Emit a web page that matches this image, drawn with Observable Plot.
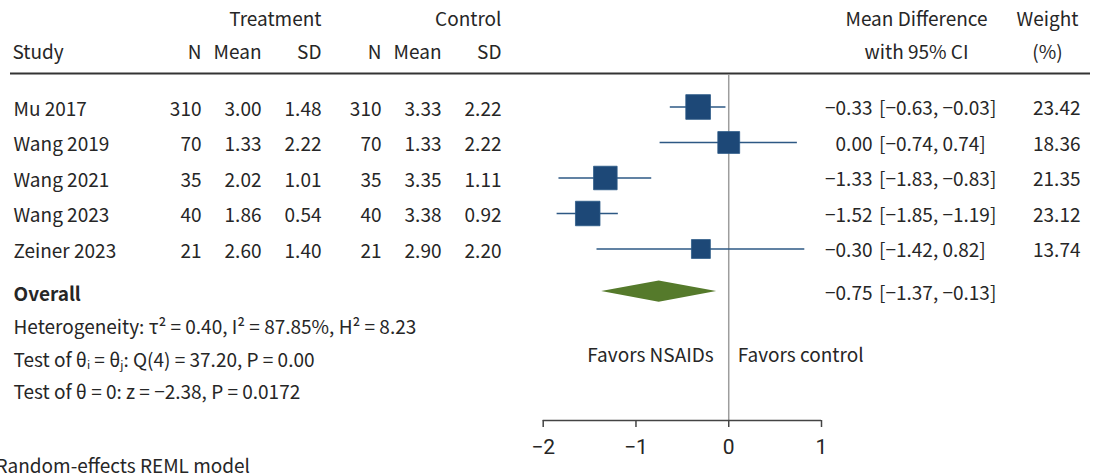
<!DOCTYPE html>
<html><head><meta charset="utf-8">
<script src="https://cdn.jsdelivr.net/npm/d3@7"></script>
<script src="https://cdn.jsdelivr.net/npm/@observablehq/plot@0.6"></script>
<style>
body{margin:0;background:#fff}
#chart{position:relative;width:1100px;height:476px;overflow:hidden;background:#fff}
#chart svg{position:absolute;left:0;top:0}
</style></head><body><div id="chart"></div>
<script>
// ---------- data ----------
const studies = ["Mu 2017", "Wang 2019", "Wang 2021", "Wang 2023", "Zeiner 2023"];
const nTreat = [310, 70, 35, 40, 21];
const meanTreat = [3.00, 1.33, 2.02, 1.86, 2.60];
const sdTreat = [1.48, 2.22, 1.01, 0.54, 1.40];
const nCtrl = [310, 70, 35, 40, 21];
const meanCtrl = [3.33, 1.33, 3.35, 3.38, 2.90];
const sdCtrl = [2.22, 2.22, 1.11, 0.92, 2.20];
const meanDiff = [-0.33, 0.00, -1.33, -1.52, -0.30];
const ciLow = [-0.63, -0.74, -1.83, -1.85, -1.42];
const ciHigh = [-0.03, 0.74, -0.83, -1.19, 0.82];
const weights = [23.42, 18.36, 21.35, 23.12, 13.74];
const overallLabel = "Overall";
const overall = {md: -0.75, lo: -1.37, hi: -0.13};
const statLines = [
  "Heterogeneity: τ² = 0.40, I² = 87.85%, H² = 8.23",
  "Test of θᵢ = θⱼ: Q(4) = 37.20, P = 0.00",
  "Test of θ = 0: z = −2.38, P = 0.0172"
];
const modelNote = "Random-effects REML model";
const favorsLeft = "Favors NSAIDs";
const favorsRight = "Favors control";
const xTicks = [-2, -1, 0, 1];
const colKeys = ["nT", "meanT", "sdT", "nC", "meanC", "sdC"];
const colHeaders = ["N", "Mean", "SD", "N", "Mean", "SD"];
const groupHeaders = [{col: "sdT", label: "Treatment"}, {col: "sdC", label: "Control"}];

// ---------- layout ----------
const W = 1100, H = 476;
const FONT = '"Noto Sans CJK KR", "Noto Sans", sans-serif';
const FS = 19;
const TXT = "#262626";
const PX = 35.5; // pixels per row unit
const ROW = {group: -2.465, header: -1.52, rule: -0.946, lineTop: -0.89, overall: 5.2,
  stats: [6.225, 7.16, 8.05], favors: 7.01, axis: 8.831, tickLabel: 9.59, model: 10.15};
const yScale = {type: "linear", domain: [0, 1], range: [106.5, 106.5 + PX], axis: null};
const baseStyle = {background: "none", fontFamily: FONT, fontSize: FS + "px", color: TXT};
const fmtMinus = v => (v < 0 ? "\u2212" : "") + Math.abs(v).toFixed(2);
const fmtTick = v => (v < 0 ? "\u2212" : "") + Math.abs(v);

const chart = document.getElementById("chart");

// ---------- left table ----------
const colVals = {nT: nTreat, meanT: meanTreat, sdT: sdTreat, nC: nCtrl, meanC: meanCtrl, sdC: sdCtrl};
const cells = studies.flatMap((s, i) => colKeys.map(k => ({
  col: k, row: i, label: k.startsWith("n") ? String(colVals[k][i]) : colVals[k][i].toFixed(2)
})));
const headerCells = colKeys.map((k, j) => ({col: k, label: colHeaders[j]}));
const studyRows = studies.map((s, i) => ({row: i, label: s}));
const statRows = statLines.map((s, i) => ({row: ROW.stats[i], label: s}));

const left = Plot.plot({
  width: W, height: H, marginLeft: 10, marginRight: 10, marginTop: 0, marginBottom: 0,
  style: baseStyle,
  x: {type: "point", domain: colKeys, range: [200, 502], padding: 0, axis: null},
  y: yScale,
  marks: [
    Plot.ruleY([ROW.rule], {stroke: "#333", strokeWidth: 2}),
    Plot.text(groupHeaders, {x: "col", y: () => ROW.group, text: "label", textAnchor: "end", fontSize: FS, fill: TXT}),
    Plot.text(headerCells, {x: "col", y: () => ROW.header, text: "label", textAnchor: "end", fontSize: FS, fill: TXT}),
    Plot.text(["Study"], {frameAnchor: "left", y: () => ROW.header, text: d => d, textAnchor: "start", dx: 2, fontSize: FS, fill: TXT}),
    Plot.text(cells, {x: "col", y: "row", text: "label", textAnchor: "end", dy: 2.5, fontSize: FS, fill: TXT}),
    Plot.text(studyRows, {frameAnchor: "left", y: "row", text: "label", textAnchor: "start", dx: 3, dy: 2.5, fontSize: FS, fill: TXT}),
    Plot.text([overallLabel], {frameAnchor: "left", y: () => ROW.overall, text: d => d, textAnchor: "start", dx: 3, dy: 3, fontSize: FS, fontWeight: "bold", fill: TXT}),
    Plot.text(statRows, {frameAnchor: "left", y: "row", text: "label", textAnchor: "start", dx: 3, fontSize: FS, fill: TXT}),
    Plot.text([modelNote], {frameAnchor: "left", y: () => ROW.model, text: d => d, textAnchor: "start", dx: -15, fontSize: FS, fill: TXT})
  ]
});
chart.appendChild(left);

// ---------- forest ----------
const forest = studies.map((s, i) => ({row: i, md: meanDiff[i], lo: ciLow[i], hi: ciHigh[i], w: weights[i]}));
const halfH = 0.3;
const diamond = [
  {x: overall.lo, y1: ROW.overall, y2: ROW.overall},
  {x: overall.md, y1: ROW.overall - halfH, y2: ROW.overall + halfH},
  {x: overall.hi, y1: ROW.overall, y2: ROW.overall}
];
const tickLen = 7 / PX;
const mid = Plot.plot({
  width: W, height: H, marginLeft: 542.7, marginRight: W - 821, marginTop: 0, marginBottom: H - 420,
  style: baseStyle,
  x: {domain: [xTicks[0], xTicks[xTicks.length - 1]], axis: null},
  y: yScale,
  r: {type: "sqrt", domain: [0, 100], range: [0, 28.77]},
  marks: [
    Plot.ruleX([0], {y1: ROW.lineTop, y2: ROW.axis, stroke: "#9d9d9d", strokeWidth: 1.5}),
    Plot.ruleY(forest, {y: "row", x1: "lo", x2: "hi", stroke: "#2d5884", strokeWidth: 1.6}),
    Plot.dot(forest, {x: "md", y: "row", r: "w", symbol: "square", fill: "#1d4877", stroke: "#2c5a88", strokeWidth: 0.8}),
    Plot.areaY(diamond, {x: "x", y1: "y1", y2: "y2", fill: "#557a2b"}),
    Plot.text([favorsLeft], {x: () => 0, y: () => ROW.favors, text: d => d, textAnchor: "end", dx: -15, fontSize: FS, fill: TXT}),
    Plot.text([favorsRight], {x: () => 0, y: () => ROW.favors, text: d => d, textAnchor: "start", dx: 9, fontSize: FS, fill: TXT}),
    // x axis: line, ticks, labels
    Plot.ruleY([ROW.axis], {stroke: "#444", strokeWidth: 1.5}),
    Plot.ruleX(xTicks, {y1: ROW.axis, y2: ROW.axis + tickLen, stroke: "#444", strokeWidth: 1.5}),
    Plot.text(xTicks, {x: d => d, y: () => ROW.tickLabel, text: fmtTick, textAnchor: "middle",
      fontSize: 21, fontFamily: "Roboto, sans-serif", fill: TXT})
  ]
});
chart.appendChild(mid);

// ---------- right table ----------
const estRows = forest.map(d => ({row: d.row, est: fmtMinus(d.md), ci: `[${fmtMinus(d.lo)}, ${fmtMinus(d.hi)}]`, w: d.w.toFixed(2)}));
estRows.push({row: ROW.overall, est: fmtMinus(overall.md), ci: `[${fmtMinus(overall.lo)}, ${fmtMinus(overall.hi)}]`, w: ""});
const right = Plot.plot({
  width: W, height: H, marginLeft: 0, marginRight: 0, marginTop: 0, marginBottom: 0,
  style: baseStyle,
  x: {type: "point", domain: ["est", "weight"], range: [875, 1080], padding: 0, axis: null},
  y: yScale,
  marks: [
    Plot.text(["Mean Difference", "with 95% CI"], {x: () => "est", y: (d, i) => [ROW.group, ROW.header][i], text: d => d, textAnchor: "middle", dx: 41, fontSize: FS, fill: TXT}),
    Plot.text(["Weight", "(%)"], {x: () => "weight", y: (d, i) => [ROW.group, ROW.header][i], text: d => d, textAnchor: "middle", dx: -33, fontSize: FS, fill: TXT}),
    Plot.text(estRows, {x: () => "est", y: "row", text: "est", textAnchor: "end", dx: -3, dy: 2, fontSize: FS, fill: TXT}),
    Plot.text(estRows, {x: () => "est", y: "row", text: "ci", textAnchor: "start", dx: 3.5, dy: 2, fontSize: FS, fill: TXT}),
    Plot.text(estRows, {x: () => "weight", y: "row", text: "w", textAnchor: "end", dy: 2, fontSize: FS, fill: TXT})
  ]
});
chart.appendChild(right);
</script></body></html>
